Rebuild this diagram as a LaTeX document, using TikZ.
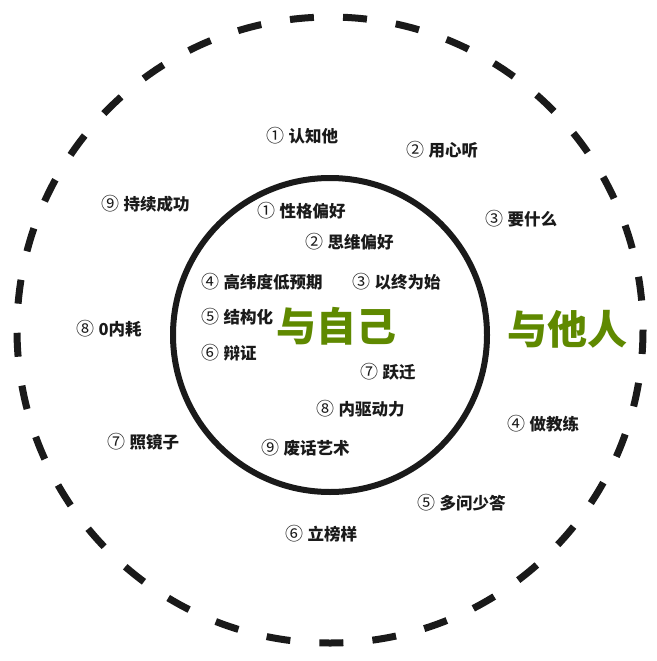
\documentclass[tikz,border=0pt]{standalone}
\usepackage{fontspec}
\newfontfamily\cjk{Noto Sans CJK SC}
\definecolor{olive}{RGB}{95,137,0}
\definecolor{ink}{RGB}{26,26,26}
\newcommand\nm[1]{{\mdseries\fontsize{18}{20}\selectfont #1}\hspace{4.5pt}}
\tikzset{
  lbl/.style={anchor=west, inner sep=0pt, text=ink, font=\cjk\bfseries\fontsize{16.5}{18}\selectfont},
  big/.style={anchor=center, inner sep=0pt, text=olive, font=\cjk\bfseries\fontsize{40}{44}\selectfont},
  outerring/.style={draw=ink, line width=7pt, dash pattern=on 24pt off 29.15pt},
  innerring/.style={draw=ink, line width=6pt}
}
\begin{document}
\begin{tikzpicture}[x=1pt,y=-1pt]
\useasboundingbox (0,0) rectangle (656,661);
\fill[white] (0,0) rectangle (656,661);
\draw[outerring] (330,330) circle (313);
\draw[innerring] (330,335) circle (157);
% outer labels
\node[lbl] (o1) at (266,136) {\nm{①}认知他};
\node[lbl] (o2) at (406,150) {\nm{②}用心听};
\node[lbl] (o3) at (485,219) {\nm{③}要什么};
\node[lbl] (o4) at (507,424) {\nm{④}做教练};
\node[lbl] (o5) at (417,503) {\nm{⑤}多问少答};
\node[lbl] (o6) at (285,534) {\nm{⑥}立榜样};
\node[lbl] (o7) at (107,442) {\nm{⑦}照镜子};
\node[lbl] (o8) at (76,329) {\nm{⑧}0内耗};
\node[lbl] (o9) at (101,204) {\nm{⑨}持续成功};
% inner labels
\node[lbl] (i1) at (257,211) {\nm{①}性格偏好};
\node[lbl] (i2) at (305,242) {\nm{②}思维偏好};
\node[lbl] (i3) at (352,282) {\nm{③}以终为始};
\node[lbl] (i4) at (201,282) {\nm{④}高纬度低预期};
\node[lbl] (i5) at (201,317) {\nm{⑤}结构化};
\node[lbl] (i6) at (201,353) {\nm{⑥}辩证};
\node[lbl] (i7) at (360,372) {\nm{⑦}跃迁};
\node[lbl] (i8) at (316,409) {\nm{⑧}内驱动力};
\node[lbl] (i9) at (261,448) {\nm{⑨}废话艺术};
% titles
\node[big] (self) at (336.5,326) {与自己};
\node[big] (others) at (567,329) {与他人};
\end{tikzpicture}
\end{document}
